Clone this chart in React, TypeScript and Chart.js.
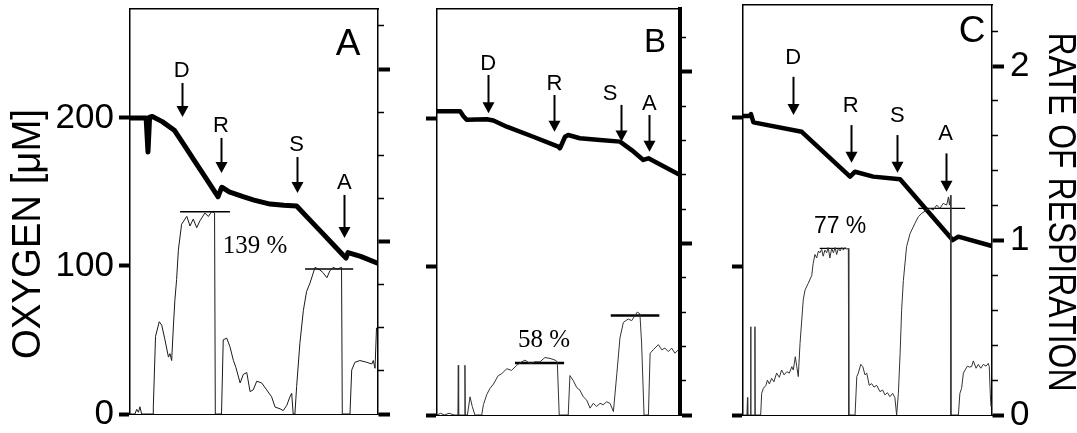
import React, { useEffect, useRef } from 'react';
import { Chart, registerables } from 'chart.js';

Chart.register(...registerables);

const W = 1077;
const H = 433;

// ---------- Tick values ----------
const oxygenTicks = [0, 100, 200];
const rateTicks = [0, 1, 2];
const rateMinorTicksA = [0.25, 0.5, 0.75, 1.25, 1.5, 1.75, 2.25];
const rateMinorTicksBC = [0.2, 0.4, 0.6, 0.8, 1.2, 1.4, 1.6, 1.8, 2.2];

// ---------- Panel A ----------
const timeA = [0, 6.5, 7.25, 7.9, 9, 13, 18, 22, 26, 30, 35, 35.5, 37, 40, 45.6, 50, 56.5, 62, 67.2, 72, 77, 82, 85.9, 87.1, 87.9, 93, 99.6];
const oxygenA = [200, 200, 177, 200.5, 201, 197.5, 191.5, 181.3, 171, 160.8, 148, 146.8, 153.2, 150, 146.8, 144.5, 141.8, 141, 140.5, 132, 123.2, 114.3, 107.4, 105.4, 109, 106.5, 102];
const rateTimeA = [0, 2.0, 2.7, 3.4, 4.0, 4.7, 9.3, 9.4, 10.3, 11.8, 12.8, 14.1, 15.5, 16.1, 16.8, 17.5, 18.1, 18.8, 19.5, 20.8, 22.9, 24.2, 25.5, 26.9, 28.2, 30.2, 31.6, 32.9, 34.1, 34.4, 36.9, 37.6, 39.0, 40.3, 41.7, 42.7, 44.4, 45.7, 47.1, 48.4, 49.7, 51.1, 53.1, 55.1, 57.1, 58.5, 60.5, 61.8, 63.2, 64.5, 65.2, 65.8, 66.5, 67.2, 68.5, 69.9, 71.2, 72.6, 74.6, 76.6, 77.8, 79.4, 80.6, 81.9, 83.5, 85.3, 85.6, 88.7, 89.4, 90.7, 92.7, 95.4, 97.5, 98.1, 98.8, 99.4];
const rateA = [0, 0, 0.027, 0.01, 0.042, 0, 0, 0.04, 0.45, 0.535, 0.515, 0.43, 0.33, 0.35, 0.31, 0.51, 0.66, 0.78, 0.95, 1.1, 1.146, 1.09, 1.13, 1.08, 1.12, 1.165, 1.145, 1.173, 1.165, 0, 0, 0.43, 0.44, 0.39, 0.31, 0.27, 0.18, 0.23, 0.24, 0.13, 0.14, 0.19, 0.18, 0.14, 0.1, 0.04, 0.03, 0.02, 0.05, 0.1, 0.12, 0, 0, 0.16, 0.41, 0.6, 0.71, 0.76, 0.85, 0.835, 0.82, 0.79, 0.83, 0.85, 0.84, 0.85, 0, 0, 0.255, 0.3, 0.31, 0.3, 0.29, 0.31, 0.265, 0.5];
const refLevelsA = [1.173, 0.84];
const refStartsA = [20.2, 70.6];
const refEndsA = [40.3, 90.0];
const arrowLabelsA = ['D', 'R', 'S', 'A'];
const arrowTimesA = [20.8, 36.7, 67.2, 86.4];
const arrowTopsA = [223.6, 186.5, 173.6, 148];
const arrowTipsA = [200.7, 162.8, 149.3, 118.9];
const percentA = '139 %';
const percentAtA = [50.4, 0.933];

// ---------- Panel B ----------
const timeB = [0, 9.5, 10.8, 12.2, 20.5, 23.2, 28.7, 39.6, 49.9, 50.6, 52.7, 54.0, 58.8, 67.1, 75.3, 80.1, 84.9, 87.0, 100];
const oxygenB = [205.3, 205.3, 202, 199.5, 199.8, 199, 194.8, 188, 181.3, 180.2, 188, 189.2, 187, 185.8, 184.7, 179, 172.3, 173.4, 162.2];
const rateTimeB = [0, 1.5, 3, 5, 7, 8.6, 8.77, 8.9, 11.4, 11.5, 11.65, 12.5, 13.6, 14.5, 15.6, 18.4, 19.1, 20.5, 21.8, 23.2, 25.2, 26.6, 28.7, 30.7, 32.8, 34.9, 36.2, 38.3, 40.3, 42.4, 44.4, 46.5, 48.6, 49.5, 50.3, 54.0, 54.7, 56.1, 57.5, 58.8, 60.2, 61.6, 63.0, 64.3, 65.7, 67.1, 68.4, 69.8, 71.2, 72.6, 74.0, 75.3, 76.7, 78.7, 80.1, 81.5, 82.4, 83.5, 84.2, 85.2, 87.0, 87.7, 89.0, 91.1, 92.5, 93.8, 95.2, 96.6, 97.9, 99.3];
const rateB = [0, 0.01, 0, 0.01, 0, 0, 0.29, 0, 0, 0.29, 0, 0, 0.106, 0.05, 0, 0, 0.06, 0.12, 0.155, 0.18, 0.23, 0.24, 0.27, 0.26, 0.29, 0.31, 0.32, 0.3, 0.31, 0.31, 0.335, 0.33, 0.32, 0.31, 0, 0, 0.23, 0.2, 0.16, 0.145, 0.106, 0.087, 0.04, 0.068, 0.05, 0.068, 0.06, 0.077, 0.068, 0.02, 0.24, 0.45, 0.54, 0.56, 0.55, 0.58, 0.6, 0.59, 0.42, 0, 0, 0.36, 0.38, 0.41, 0.38, 0.39, 0.37, 0.39, 0.36, 0.38];
const refLevelsB = [0.303, 0.58];
const refStartsB = [32.1, 71.5];
const refEndsB = [52.3, 91.5];
const arrowLabelsB = ['D', 'R', 'S', 'A'];
const arrowTimesB = [21.1, 48.3, 75.6, 87.4];
const arrowLabelTimesB = [21.1, 48.3, 71.2, 87.4];
const arrowTopsB = [229.7, 216.2, 209.5, 202.7];
const arrowTipsB = [203.9, 191.4, 184.7, 177.9];
const percentB = '58 %';
const percentAtB = [44, 0.397];

// ---------- Panel C ----------
const timeC = [0, 2.6, 3.2, 4.2, 23.6, 43, 45, 52.3, 63.1, 84.2, 86.5, 99.6];
const oxygenC = [200.7, 200.7, 202, 196.4, 190.1, 160, 163.3, 160, 158.2, 117.4, 119.7, 113.6];
const rateTimeC = [0, 1.6, 1.8, 1.9, 3.0, 3.1, 3.2, 4.7, 4.8, 4.9, 7.1, 7.5, 8.2, 9.2, 9.8, 10.6, 11.5, 12.4, 13.5, 14.6, 15.5, 16.5, 17.6, 18.6, 19.6, 20.2, 21.0, 21.6, 22.2, 22.9, 23.6, 24.2, 24.9, 26.2, 27.6, 28.2, 28.9, 29.6, 30.3, 30.9, 31.6, 32.2, 32.9, 33.6, 34.2, 34.9, 35.6, 36.3, 37.0, 37.6, 38.3, 39.0, 39.7, 40.3, 41.0, 41.6, 42.3, 42.5, 45.0, 45.7, 46.3, 47.3, 48.1, 49.0, 49.7, 50.7, 51.7, 52.6, 53.7, 55.0, 56.1, 57.0, 58.0, 59.0, 60.1, 61.0, 61.7, 62.4, 63.1, 63.7, 64.4, 65.7, 67.1, 69.1, 70.4, 71.8, 73.8, 75.1, 76.4, 77.8, 79.1, 80.4, 81.8, 82.5, 82.9, 83.4, 83.5, 86.5, 87.1, 87.8, 88.5, 89.2, 90.1, 90.9, 91.8, 92.5, 93.6, 94.5, 95.5, 96.5, 97.6, 98.5, 98.9, 99.3, 99.6];
const rateC = [0, 0, 0.1, 0, 0, 0.506, 0, 0, 0.506, 0, 0, 0.124, 0.153, 0.17, 0.2, 0.178, 0.21, 0.19, 0.24, 0.216, 0.258, 0.23, 0.248, 0.24, 0.277, 0.258, 0.334, 0.277, 0.22, 0.41, 0.544, 0.66, 0.716, 0.755, 0.8, 0.87, 0.92, 0.9, 0.94, 0.93, 0.95, 0.91, 0.945, 0.93, 0.96, 0.9, 0.955, 0.93, 0.96, 0.92, 0.955, 0.94, 0.96, 0.945, 0.96, 0.95, 0.955, 0, 0, 0.22, 0.24, 0.29, 0.277, 0.23, 0.24, 0.17, 0.18, 0.16, 0.17, 0.134, 0.143, 0.115, 0.128, 0.105, 0.124, 0.1, 0, 0.124, 0.354, 0.6, 0.77, 0.965, 1.04, 1.1, 1.136, 1.156, 1.175, 1.184, 1.175, 1.203, 1.184, 1.213, 1.203, 1.25, 1.203, 1.26, 0, 0, 0.124, 0.153, 0.24, 0.258, 0.28, 0.275, 0.277, 0.31, 0.268, 0.29, 0.268, 0.29, 0.28, 0.296, 0.277, 0.124, 0.048];
const refLevelsC = [0.955, 1.184];
const refStartsC = [30.8, 70.4];
const refEndsC = [41.5, 89.2];
const arrowLabelsC = ['D', 'R', 'S', 'A'];
const arrowTimesC = [20.2, 43.3, 62.0, 81.4];
const arrowTopsC = [227, 194.6, 187.9, 175.6];
const arrowTipsC = [201.3, 169.3, 162.6, 149.9];
const percentC = '77 %';
const percentAtC = [39, 1.043];

const SANS = '"Liberation Sans", Arial, Helvetica, sans-serif';
const SERIF = '"Liberation Serif", "Times New Roman", serif';

type PanelCfg = {
  key: string;
  letter: string;
  area: { left: number; right: number; top: number; bottom: number };
  o2Max: number;
  rateMax: number;
  time: number[];
  oxygen: number[];
  rateTime: number[];
  rate: number[];
  refLevels: number[];
  refStarts: number[];
  refEnds: number[];
  refWidth: number;
  arrowLabels: string[];
  arrowTimes: number[];
  arrowLabelTimes: number[];
  arrowTops: number[];
  arrowTips: number[];
  labelGap: number;
  percent: string;
  percentAt: number[];
  percentFont: string;
  o2Width: number;
  rateColor: string;
  minorTicks: number[];
  rightBorder: number;
  showLeftLabels: boolean;
  showRightLabels: boolean;
  letterDx: number;
  letterDy: number;
  letterFont: string;
  leftTitle?: boolean;
  rightTitle?: boolean;
};

const panels: PanelCfg[] = [
  {
    key: 'A', letter: 'A',
    area: { left: 130, right: 378, top: 9, bottom: 414 },
    o2Max: 273.6, rateMax: 2.348,
    time: timeA, oxygen: oxygenA, rateTime: rateTimeA, rate: rateA,
    refLevels: refLevelsA, refStarts: refStartsA, refEnds: refEndsA, refWidth: 1.5,
    arrowLabels: arrowLabelsA, arrowTimes: arrowTimesA, arrowLabelTimes: arrowTimesA,
    arrowTops: arrowTopsA, arrowTips: arrowTipsA, labelGap: 6,
    percent: percentA, percentAt: percentAtA, percentFont: `25px ${SERIF}`,
    o2Width: 5, rateColor: '#1a1a1a', minorTicks: rateMinorTicksA, rightBorder: 1.5,
    showLeftLabels: true, showRightLabels: false,
    letterDx: -30, letterDy: 46, letterFont: `37px ${SANS}`,
    leftTitle: true,
  },
  {
    key: 'B', letter: 'B',
    area: { left: 437, right: 680, top: 9, bottom: 415 },
    o2Max: 274.3, rateMax: 2.367,
    time: timeB, oxygen: oxygenB, rateTime: rateTimeB, rate: rateB,
    refLevels: refLevelsB, refStarts: refStartsB, refEnds: refEndsB, refWidth: 2.5,
    arrowLabels: arrowLabelsB, arrowTimes: arrowTimesB, arrowLabelTimes: arrowLabelTimesB,
    arrowTops: arrowTopsB, arrowTips: arrowTipsB, labelGap: 5,
    percent: percentB, percentAt: percentAtB, percentFont: `25px ${SERIF}`,
    o2Width: 4.5, rateColor: '#333', minorTicks: rateMinorTicksBC, rightBorder: 4,
    showLeftLabels: false, showRightLabels: false,
    letterDx: -25, letterDy: 43, letterFont: `33px ${SANS}`,
  },
  {
    key: 'C', letter: 'C',
    area: { left: 743, right: 992, top: 5, bottom: 415 },
    o2Max: 275.2, rateMax: 2.35,
    time: timeC, oxygen: oxygenC, rateTime: rateTimeC, rate: rateC,
    refLevels: refLevelsC, refStarts: refStartsC, refEnds: refEndsC, refWidth: 1.2,
    arrowLabels: arrowLabelsC, arrowTimes: arrowTimesC, arrowLabelTimes: arrowTimesC,
    arrowTops: arrowTopsC, arrowTips: arrowTipsC, labelGap: 13,
    percent: percentC, percentAt: percentAtC, percentFont: `23px ${SANS}`,
    o2Width: 4.5, rateColor: '#333', minorTicks: rateMinorTicksBC, rightBorder: 1.5,
    showLeftLabels: false, showRightLabels: true,
    letterDx: -20, letterDy: 37, letterFont: `37px ${SANS}`,
    rightTitle: true,
  },
];

const zip = (xs: number[], ys: number[]) => xs.map((x, i) => ({ x, y: ys[i] }));

const annotationPlugin = {
  id: 'panelAnnotations',
  afterDatasetsDraw(chart: any, _args: any, opts: any) {
    const p: PanelCfg = opts.panel;
    const ctx = chart.ctx;
    const xs = chart.scales.x;
    const yo = chart.scales.yO2;
    const yr = chart.scales.yR;
    const ca = chart.chartArea;
    ctx.save();
    ctx.fillStyle = '#000';
    ctx.strokeStyle = '#000';
    const headW = 12;
    const headH = 11;
    p.arrowTimes.forEach((t, i) => {
      const px = Math.round(xs.getPixelForValue(t)) + 0.5;
      const yTop = yo.getPixelForValue(p.arrowTops[i]);
      const yTip = yo.getPixelForValue(p.arrowTips[i]);
      ctx.lineWidth = 2;
      ctx.beginPath();
      ctx.moveTo(px, yTop);
      ctx.lineTo(px, yTip - headH + 1);
      ctx.stroke();
      ctx.beginPath();
      ctx.moveTo(px - headW / 2, yTip - headH);
      ctx.lineTo(px + headW / 2, yTip - headH);
      ctx.lineTo(px, yTip);
      ctx.closePath();
      ctx.fill();
      ctx.font = `22px ${SANS}`;
      ctx.textAlign = 'center';
      ctx.textBaseline = 'alphabetic';
      ctx.fillText(p.arrowLabels[i], xs.getPixelForValue(p.arrowLabelTimes[i]), yTop - p.labelGap);
    });
    ctx.font = p.percentFont;
    ctx.textAlign = 'center';
    ctx.textBaseline = 'alphabetic';
    ctx.fillText(p.percent, xs.getPixelForValue(p.percentAt[0]), yr.getPixelForValue(p.percentAt[1]));
    ctx.font = p.letterFont;
    ctx.fillText(p.letter, ca.right + p.letterDx, ca.top + p.letterDy);
    if (p.leftTitle) {
      ctx.save();
      ctx.translate(29, 234);
      ctx.rotate(-Math.PI / 2);
      ctx.font = `40px ${SANS}`;
      ctx.textAlign = 'center';
      ctx.textBaseline = 'middle';
      ctx.fillText('OXYGEN [μM]', 0, 0, 250);
      ctx.restore();
    }
    if (p.rightTitle) {
      ctx.save();
      ctx.translate(1059, 212);
      ctx.rotate(Math.PI / 2);
      ctx.font = `38px ${SANS}`;
      ctx.textAlign = 'center';
      ctx.textBaseline = 'middle';
      ctx.fillText('RATE OF RESPIRATION', 0, 0, 359);
      ctx.restore();
    }
    ctx.restore();
  },
};

function makeConfig(p: PanelCfg): any {
  const refSets = p.refLevels.map((lv, i) => ({
    data: [{ x: p.refStarts[i], y: lv }, { x: p.refEnds[i], y: lv }],
    yAxisID: 'yR',
    xAxisID: 'x',
    borderColor: '#000',
    borderWidth: p.refWidth,
    pointRadius: 0,
    tension: 0,
  }));
  const setTicks = (vals: number[]) => (s: any) => {
    s.ticks = vals.map((v) => ({ value: v }));
  };
  const fitY = (w: number) => (s: any) => {
    s.width = w;
    s.paddingTop = 0;
    s.paddingBottom = 0;
    s.paddingLeft = 0;
    s.paddingRight = 0;
  };
  const frameX = (pos: string) => ({
    type: 'linear',
    axis: 'x',
    position: pos,
    min: 0,
    max: 100,
    ticks: { display: false },
    grid: { display: false, drawTicks: false },
    border: { display: true, color: '#000', width: pos === 'top' ? 1.5 : 1 },
    afterFit: (s: any) => {
      s.height = 0;
      s.paddingLeft = 0;
      s.paddingRight = 0;
      s.paddingTop = 0;
      s.paddingBottom = 0;
    },
  });
  return {
    type: 'line',
    data: {
      datasets: [
        {
          data: zip(p.rateTime, p.rate),
          yAxisID: 'yR',
          xAxisID: 'x',
          borderColor: p.rateColor,
          borderWidth: 1,
          pointRadius: 0,
          tension: 0,
        },
        ...refSets,
        {
          data: zip(p.time, p.oxygen),
          yAxisID: 'yO2',
          xAxisID: 'x',
          borderColor: '#000',
          borderWidth: p.o2Width,
          borderJoinStyle: 'round',
          borderCapStyle: 'round',
          pointRadius: 0,
          tension: 0,
        },
      ],
    },
    options: {
      animation: false,
      responsive: false,
      devicePixelRatio: 1,
      events: [],
      layout: { padding: { left: 0, right: 0, top: p.area.top, bottom: H - p.area.bottom } },
      plugins: {
        legend: { display: false },
        tooltip: { enabled: false },
        panelAnnotations: { panel: p },
      },
      scales: {
        x: frameX('bottom'),
        xTop: frameX('top'),
        yO2: {
          type: 'linear',
          position: 'left',
          min: 0,
          max: p.o2Max,
          afterBuildTicks: setTicks(oxygenTicks),
          ticks: { display: p.showLeftLabels, color: '#000', font: { family: SANS, size: 35 }, padding: 5 },
          grid: { drawOnChartArea: false, drawTicks: true, tickLength: 11, tickWidth: 4, tickColor: '#000' },
          border: { display: true, color: '#000', width: 1.5 },
          afterFit: fitY(p.area.left),
        },
        yRm: {
          type: 'linear',
          position: 'right',
          min: 0,
          max: p.rateMax,
          afterBuildTicks: setTicks(p.minorTicks),
          ticks: { display: false },
          grid: { drawOnChartArea: false, drawTicks: true, tickLength: 6, tickWidth: 1.5, tickColor: '#000' },
          border: { display: false },
          afterFit: fitY(0),
        },
        yR: {
          type: 'linear',
          position: 'right',
          min: 0,
          max: p.rateMax,
          afterBuildTicks: setTicks(rateTicks),
          ticks: { display: p.showRightLabels, color: '#000', font: { family: SANS, size: 35 }, padding: 6 },
          grid: { drawOnChartArea: false, drawTicks: true, tickLength: 12, tickWidth: 4, tickColor: '#000' },
          border: { display: true, color: '#000', width: p.rightBorder },
          afterFit: fitY(W - p.area.right),
        },
      },
    },
    plugins: [annotationPlugin],
  };
}

function Panel({ cfg }: { cfg: PanelCfg }) {
  const ref = useRef<HTMLCanvasElement | null>(null);
  useEffect(() => {
    if (!ref.current) return;
    const chart = new Chart(ref.current, makeConfig(cfg));
    return () => chart.destroy();
  }, [cfg]);
  return (
    <canvas
      ref={ref}
      width={W}
      height={H}
      style={{ position: 'absolute', left: 0, top: 0, width: W, height: H }}
    />
  );
}

export default function App() {
  return (
    <div style={{ position: 'absolute', left: 0, top: 0, width: W, height: H, background: '#fff', overflow: 'hidden' }}>
      {panels.map((p) => (
        <Panel key={p.key} cfg={p} />
      ))}
    </div>
  );
}
